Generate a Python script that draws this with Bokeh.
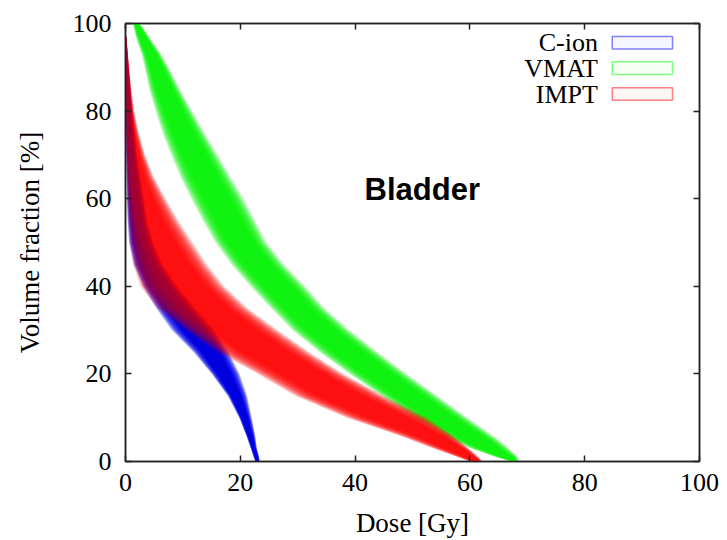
from bokeh.plotting import figure
from bokeh.models import LinearAxis, Range1d, Label, FixedTicker
from bokeh.embed import file_html
from bokeh.resources import INLINE

# ---------------- data ----------------
series_names = ["C-ion", "VMAT", "IMPT"]
series_colors = ["#0000ff", "#00f000", "#ff0000"]

# C-ion band: volume levels [%], dose bounds [Gy] (outer low, centre, outer high)
cion_vol = [97, 92, 88, 84, 80, 75, 70, 65, 60, 55, 50, 45, 40, 35, 30, 25, 20, 15, 10, 6, 3, 1, 0]
cion_lo  = [0.0, 0.0, 0.0, 0.0, 0.0, 0.05, 0.1, 0.15, 0.2, 0.35, 0.6, 1.4, 3.0, 5.3, 8.0, 11.8, 15.0, 17.8, 19.8, 21.0, 21.8, 22.3, 22.6]
cion_mid = [0.05, 0.15, 0.25, 0.35, 0.5, 0.7, 0.9, 1.2, 1.5, 1.9, 2.6, 3.8, 6.0, 8.8, 11.8, 14.8, 17.0, 19.0, 20.6, 21.6, 22.3, 22.8, 23.0]
cion_hi  = [0.15, 0.45, 0.7, 0.95, 1.2, 1.6, 2.0, 2.6, 3.2, 3.8, 4.8, 6.5, 9.0, 12.2, 15.5, 18.0, 19.9, 21.2, 22.0, 22.6, 22.9, 23.3, 23.4]

# VMAT band: volume levels [%], centre dose and half spread [Gy]
vmat_vol    = [100, 98, 96, 93, 90, 85, 80, 75, 70, 65, 60, 55, 50, 45, 40, 35, 30, 25, 20, 15, 10, 5, 3, 1, 0]
vmat_mid    = [1.9, 2.6, 3.3, 4.5, 5.4, 6.8, 8.4, 10.1, 12.0, 13.9, 16.0, 18.0, 20.1, 23.0, 26.5, 30.0, 34.0, 38.8, 44.0, 49.4, 54.9, 60.8, 63.4, 66.4, 67.9]
vmat_spread = [0.6, 1.0, 1.3, 1.7, 2.1, 2.7, 3.2, 3.7, 4.1, 4.4, 4.6, 4.6, 4.5, 4.6, 4.8, 4.7, 5.0, 5.1, 5.0, 4.9, 4.7, 4.2, 3.4, 2.0, 0.6]

# IMPT band: volume levels [%], dose bounds [Gy] (outer low, centre, outer high)
impt_vol = [97, 95, 92, 88, 84, 80, 75, 70, 65, 60, 55, 50, 45, 40, 35, 30, 25, 20, 15, 10, 6, 3, 1, 0]
impt_lo  = [0.0, 0.0, 0.0, 0.0, 0.0, 0.0, 0.05, 0.1, 0.2, 0.3, 0.45, 0.7, 1.3, 2.5, 5.5, 10.5, 16.0, 23.0, 29.5, 38.5, 47.5, 53.5, 57.8, 60.0]
impt_mid = [0.05, 0.12, 0.2, 0.3, 0.45, 0.6, 0.9, 1.3, 1.8, 2.6, 3.9, 5.6, 8.0, 10.8, 14.5, 19.2, 24.8, 31.0, 37.5, 46.0, 53.0, 57.6, 60.2, 61.3]
impt_hi  = [0.15, 0.3, 0.5, 0.8, 1.1, 1.5, 2.3, 3.4, 4.9, 7.0, 9.2, 11.7, 14.2, 17.2, 21.3, 26.5, 32.0, 38.0, 45.0, 52.5, 57.0, 59.8, 61.5, 62.2]

x_ticks = [0, 20, 40, 60, 80, 100]
y_ticks = [0, 20, 40, 60, 80, 100]

# ---------------- figure ----------------
p = figure(width=727, height=540, x_range=Range1d(0, 100), y_range=Range1d(0, 100),
           output_backend="svg", toolbar_location=None,
           min_border_left=125, min_border_right=28, min_border_top=23, min_border_bottom=78)
p.xgrid.visible = False
p.ygrid.visible = False
p.outline_line_color = "#222222"
p.outline_line_width = 1.5
p.background_fill_color = "white"
p.border_fill_color = "white"

SERIF = "Liberation Serif"

def style_axis(ax, labels=True):
    ax.major_tick_in = 6
    ax.major_tick_out = 0
    ax.minor_tick_line_color = None
    ax.axis_line_color = "#222222"
    ax.axis_line_width = 1.5
    ax.major_tick_line_color = "#222222"
    ax.major_tick_line_width = 1.5
    ax.major_label_text_font = SERIF
    ax.major_label_text_color = "black"
    if labels:
        ax.major_label_text_font_size = "26px"
    else:
        ax.major_label_text_font_size = "0px"
        ax.major_label_standoff = 0

p.xaxis.ticker = FixedTicker(ticks=x_ticks)
p.yaxis.ticker = FixedTicker(ticks=y_ticks)
style_axis(p.xaxis[0])
style_axis(p.yaxis[0])
p.xaxis.major_label_standoff = 12
p.yaxis.major_label_standoff = 14
p.xaxis.axis_label = "Dose [Gy]"
p.yaxis.axis_label = "Volume fraction [%]"
for ax in (p.xaxis[0], p.yaxis[0]):
    ax.axis_label_text_font = SERIF
    ax.axis_label_text_font_size = "27px"
    ax.axis_label_text_font_style = "normal"
    ax.axis_label_text_color = "black"
p.xaxis.axis_label_standoff = 14
p.yaxis.axis_label_standoff = 25

top = LinearAxis(ticker=FixedTicker(ticks=x_ticks))
style_axis(top, labels=False)
p.add_layout(top, "above")
right = LinearAxis(ticker=FixedTicker(ticks=y_ticks))
style_axis(right, labels=False)
p.add_layout(right, "right")

# ---------------- bands ----------------
N_LAYERS = 16
fracs = [0.5 + 0.5 * k / (N_LAYERS - 1) for k in range(N_LAYERS)]

def band(vol, lo, mid, hi, color, a_layer=0.15):
    for f in fracs:
        x1 = [m + (l - m) * f for l, m in zip(lo, mid)]
        x2 = [m + (h - m) * f for h, m in zip(hi, mid)]
        p.harea(x1=x1, x2=x2, y=vol, fill_color=color, fill_alpha=a_layer)

vmat_lo = [m - s for m, s in zip(vmat_mid, vmat_spread)]
vmat_hi = [m + s for m, s in zip(vmat_mid, vmat_spread)]

band(cion_vol, cion_lo, cion_mid, cion_hi, series_colors[0])
band(vmat_vol, vmat_lo, vmat_mid, vmat_hi, series_colors[1])
band(impt_vol, impt_lo, impt_mid, impt_hi, series_colors[2])

# faint dark tint of the C-ion band over the IMPT band (overlap reads darker)
band(cion_vol, cion_lo, cion_mid, cion_hi, "#000080", a_layer=0.02)

# ---------------- legend (label left, box right) ----------------
leg_text_x = 82.3
leg_box_l, leg_box_r = 84.8, 95.3
leg_y = [95.6, 89.8, 83.9]
leg_h = 2.9
leg_border = ["#8080ff", "#80ff80", "#ff8080"]
leg_fill = ["#f6f6ff", "#f6fff6", "#fff6f6"]
for name, yc, bc, fc in zip(series_names, leg_y, leg_border, leg_fill):
    p.add_layout(Label(x=leg_text_x, y=yc, text=name, text_align="right", text_baseline="middle",
                       text_font=SERIF, text_font_size="26px", text_color="black"))
    p.quad(left=leg_box_l, right=leg_box_r, bottom=yc - leg_h / 2, top=yc + leg_h / 2,
           fill_color=fc, line_color=bc, line_width=1.5)

p.add_layout(Label(x=51.7, y=62.0, text="Bladder", text_align="center", text_baseline="middle",
                   text_font="Liberation Sans", text_font_style="bold", text_font_size="31px",
                   text_color="black"))

open("out.html", "w").write(file_html(p, INLINE))
